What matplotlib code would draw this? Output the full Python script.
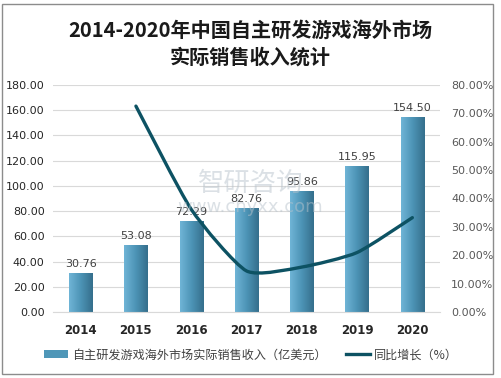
import matplotlib
matplotlib.use("Agg")
import matplotlib.pyplot as plt
import numpy as np
from matplotlib.path import Path
from matplotlib.patches import PathPatch, Rectangle
from matplotlib.lines import Line2D
from matplotlib.colors import LinearSegmentedColormap

plt.rcParams['font.family'] = ['Noto Sans CJK SC', 'DejaVu Sans']

years = ['2014', '2015', '2016', '2017', '2018', '2019', '2020']
revenue = [30.76, 53.08, 72.29, 82.76, 95.86, 115.95, 154.50]
growth = [None, 72.56, 36.19, 14.48, 15.83, 20.96, 33.25]
left_ticks = [0, 20, 40, 60, 80, 100, 120, 140, 160, 180]
right_ticks = [0, 10, 20, 30, 40, 50, 60, 70, 80]

W, H = 501, 378
fig = plt.figure(figsize=(W / 100, H / 100), dpi=100)
fig.patches.append(Rectangle((2 / W, 1 - 374 / H), 491 / W, 370 / H, transform=fig.transFigure,
                             fill=False, edgecolor='#8c8c8c', linewidth=1.0))

ax = fig.add_axes([53 / W, 1 - 312 / H, 387 / W, 227 / H])
x = np.arange(len(years))
bw = 0.42
bars = ax.bar(x, revenue, width=bw, color='#4f97b8', zorder=2)

grad = np.linspace(0, 1, 64).reshape(1, -1)
cmap = LinearSegmentedColormap.from_list('b', ['#6fb4d6', '#4c93b5', '#356f8c'])
for b in bars:
    bx, by = b.get_x(), b.get_y()
    w, h = b.get_width(), b.get_height()
    im = ax.imshow(grad, extent=[bx, bx + w, by, by + h], aspect='auto', cmap=cmap, zorder=2.1)
    im.set_clip_path(b)

for xi, v in zip(x, revenue):
    ax.text(xi, v + 3, f'{v:.2f}', ha='center', va='bottom', fontsize=8, color='#404040',
            family='DejaVu Sans', zorder=3)

ax.set_xlim(-0.5, len(years) - 0.5)
ax.set_ylim(0, 180)
ax.set_yticks(left_ticks)
ax.set_yticklabels([f'{t:.2f}' for t in left_ticks], fontsize=8, color='#262626', family='DejaVu Sans')
ax.set_xticks(x)
ax.set_xticklabels(years, fontsize=8.5, fontweight='bold', color='#262626', family='DejaVu Sans')
ax.tick_params(axis='both', length=0, pad=6)
ax.tick_params(axis='x', pad=9)
ax.grid(axis='y', color='#d9d9d9', linewidth=0.8, zorder=0)
ax.set_axisbelow(True)
for s in ax.spines.values():
    s.set_visible(False)
ax.spines['bottom'].set_visible(True)
ax.spines['bottom'].set_color('#d9d9d9')

ax2 = ax.twinx()
ax2.set_ylim(0, 80)
ax2.set_yticks(right_ticks)
ax2.set_yticklabels([f'{t:.2f}%' for t in right_ticks], fontsize=8, color='#595959', family='DejaVu Sans')
ax2.tick_params(axis='y', length=0, pad=8)
for s in ax2.spines.values():
    s.set_visible(False)

# smoothed line through growth points (Bezier, low tension)
gx = [xi for xi, g in zip(x, growth) if g is not None]
gy = [g for g in growth if g is not None]
pts = list(zip(gx, gy))
verts = [pts[0]]
codes = [Path.MOVETO]
t = 1 / 10
for i in range(len(pts) - 1):
    p0 = pts[i - 1] if i > 0 else pts[i]
    p1 = pts[i]
    p2 = pts[i + 1]
    p3 = pts[i + 2] if i + 2 < len(pts) else pts[i + 1]
    c1 = (p1[0] + (p2[0] - p0[0]) * t, p1[1] + (p2[1] - p0[1]) * t)
    c2 = (p2[0] - (p3[0] - p1[0]) * t, p2[1] - (p3[1] - p1[1]) * t)
    verts += [c1, c2, p2]
    codes += [Path.CURVE4] * 3
ax2.add_patch(PathPatch(Path(verts, codes), fill=False, edgecolor='#0d5263', linewidth=2.4,
                        capstyle='round', joinstyle='round', zorder=4))

# watermark
fig.text(0.5, 1 - 183 / H, '智研咨询', ha='center', va='center', fontsize=19, color='#b8c3cc',
         alpha=0.5, zorder=5)
fig.text(0.5, 1 - 207 / H, 'www.chyxx.com', ha='center', va='center', fontsize=13, color='#b8c3cc',
         alpha=0.5, family='DejaVu Sans', zorder=5)

# title
fig.text(250 / W, 1 - 30 / H, '2014-2020年中国自主研发游戏海外市场', ha='center', va='center',
         fontsize=14.5, color='#1a1a1a', fontweight='bold')
fig.text(250 / W, 1 - 57 / H, '实际销售收入统计', ha='center', va='center',
         fontsize=14.5, color='#1a1a1a', fontweight='bold')

# legend
handles = [Rectangle((0, 0), 1, 1, facecolor='#4f97b8'),
           Line2D([0], [0], color='#0d5263', linewidth=2.4)]
labels = ['自主研发游戏海外市场实际销售收入（亿美元）', '同比增长（%）']
fig.legend(handles, labels, loc='center', bbox_to_anchor=(251 / W, 1 - 355 / H), ncol=2,
           frameon=False, fontsize=8.7, labelcolor='#404040', handlelength=2.0, handleheight=0.6,
           columnspacing=1.6, handletextpad=0.3)

fig.savefig('out.png', dpi=100)
